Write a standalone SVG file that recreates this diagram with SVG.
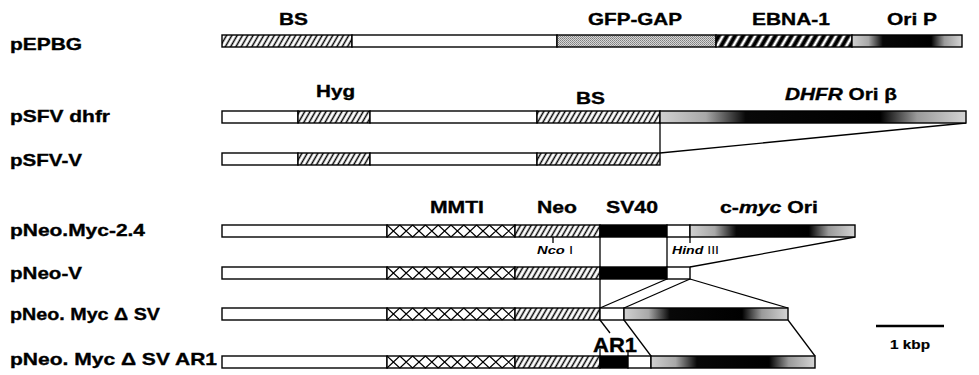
<svg xmlns="http://www.w3.org/2000/svg" xmlns:xlink="http://www.w3.org/1999/xlink" width="979" height="375" viewBox="0 0 979 375">
<style>
.t{font-family:"Liberation Sans",Arial,Helvetica,sans-serif;font-weight:bold;font-size:17px;fill:#000;stroke:#000;stroke-width:0.35}
.s{font-family:"Liberation Sans",Arial,Helvetica,sans-serif;font-weight:bold;font-size:11.5px;fill:#000}
.seg{stroke:#000;stroke-width:1.4}
.w{fill:#fff}
.h{fill:url(#hatch)}
.th{fill:url(#thick)}
.st{fill:url(#stip)}
.k{fill:#000}
.o{fill:url(#ori)}
.x{fill:#fff}
.ln{stroke:#000;stroke-width:1.3;fill:none}
</style>
<defs>
<pattern id="hatch" patternUnits="userSpaceOnUse" width="4.6" height="10" patternTransform="rotate(30)">
<rect width="4.6" height="10" fill="#fff"/>
<line x1="2.3" y1="0" x2="2.3" y2="10" stroke="#000" stroke-width="1.5"/>
</pattern>
<pattern id="thick" patternUnits="userSpaceOnUse" width="7" height="10" patternTransform="rotate(30)">
<rect width="7" height="10" fill="#fff"/>
<line x1="3.5" y1="0" x2="3.5" y2="10" stroke="#000" stroke-width="4.2"/>
</pattern>
<pattern id="stip" patternUnits="userSpaceOnUse" width="2" height="2">
<rect width="2" height="2" fill="#d6d6d6"/>
<rect width="1" height="1" fill="#808080"/>
<rect x="1" y="1" width="1" height="1" fill="#959595"/>
</pattern>
<linearGradient id="ori" x1="0" y1="0" x2="1" y2="0">
<stop offset="0" stop-color="#d0d0d0"/>
<stop offset="0.15" stop-color="#a8a8a8"/>
<stop offset="0.28" stop-color="#080808"/>
<stop offset="0.72" stop-color="#000"/>
<stop offset="0.84" stop-color="#9a9a9a"/>
<stop offset="1" stop-color="#d4d4d4"/>
</linearGradient>
<path id="xh" d="M0,0L12.8,12M0,12L12.8,0M12.8,0L25.6,12M12.8,12L25.6,0M25.6,0L38.4,12M25.6,12L38.4,0M38.4,0L51.2,12M38.4,12L51.2,0M51.2,0L64,12M51.2,12L64,0M64,0L76.8,12M64,12L76.8,0M76.8,0L89.6,12M76.8,12L89.6,0M89.6,0L102.4,12M89.6,12L102.4,0M102.4,0L115.2,12M102.4,12L115.2,0M115.2,0L128,12M115.2,12L128,0" stroke="#000" stroke-width="1.1" fill="none"/>
</defs>

<g id="connectors">
<line class="ln" x1="660" y1="123" x2="660" y2="153"/>
<line class="ln" x1="660" y1="153" x2="966" y2="123"/>
<line class="ln" x1="600" y1="237" x2="600" y2="267"/>
<line class="ln" x1="667" y1="237" x2="667" y2="267"/>
<line class="ln" x1="690" y1="267" x2="855" y2="237"/>
<line class="ln" x1="553" y1="237" x2="553" y2="243"/>
<line class="ln" x1="690" y1="237" x2="690" y2="243"/>
<line class="ln" x1="600" y1="279" x2="600" y2="308"/>
<line class="ln" x1="667" y1="279" x2="600" y2="308"/>
<line class="ln" x1="690" y1="279" x2="624" y2="308"/>
<line class="ln" x1="690" y1="279" x2="788" y2="308"/>
<line class="ln" x1="600" y1="320" x2="610" y2="333"/>
<line class="ln" x1="600" y1="349" x2="600" y2="356"/>
<line class="ln" x1="628" y1="350" x2="628" y2="356"/>
<line class="ln" x1="624" y1="320" x2="651" y2="356"/>
<line class="ln" x1="788" y1="320" x2="815" y2="356"/>
</g>

<g id="pEPBG">
<text class="t" x="10" y="50" textLength="72" lengthAdjust="spacingAndGlyphs">pEPBG</text>
<rect class="seg h" x="222" y="35" width="130" height="12"/>
<rect class="seg w" x="352" y="35" width="205" height="12"/>
<rect class="seg st" x="557" y="35" width="159" height="12"/>
<rect class="seg th" x="716" y="35" width="136" height="12"/>
<rect class="seg o" x="852" y="35" width="110" height="12"/>
<text class="t" x="279" y="25" textLength="29" lengthAdjust="spacingAndGlyphs">BS</text>
<text class="t" x="588" y="25" textLength="94" lengthAdjust="spacingAndGlyphs">GFP-GAP</text>
<text class="t" x="752" y="25" textLength="78" lengthAdjust="spacingAndGlyphs">EBNA-1</text>
<text class="t" x="887" y="25" textLength="50" lengthAdjust="spacingAndGlyphs">Ori P</text>
</g>

<g id="pSFV-dhfr">
<text class="t" x="10" y="122" textLength="100" lengthAdjust="spacingAndGlyphs">pSFV dhfr</text>
<rect class="seg w" x="222" y="111" width="76" height="12"/>
<rect class="seg h" x="298" y="111" width="72" height="12"/>
<rect class="seg w" x="370" y="111" width="167" height="12"/>
<rect class="seg h" x="537" y="111" width="123" height="12"/>
<rect class="seg o" x="660" y="111" width="306" height="12"/>
<text class="t" x="316" y="97" textLength="39" lengthAdjust="spacingAndGlyphs">Hyg</text>
<text class="t" x="576" y="104" textLength="29" lengthAdjust="spacingAndGlyphs">BS</text>
<text class="t" x="785" y="100" textLength="112" lengthAdjust="spacingAndGlyphs"><tspan font-style="italic">DHFR</tspan> Ori β</text>
</g>

<g id="pSFV-V">
<text class="t" x="10" y="166" textLength="72" lengthAdjust="spacingAndGlyphs">pSFV-V</text>
<rect class="seg w" x="222" y="153" width="76" height="12"/>
<rect class="seg h" x="298" y="153" width="72" height="12"/>
<rect class="seg w" x="370" y="153" width="167" height="12"/>
<rect class="seg h" x="537" y="153" width="123" height="12"/>
</g>

<g id="pNeo-Myc-2.4">
<text class="t" x="10" y="236" textLength="135" lengthAdjust="spacingAndGlyphs">pNeo.Myc-2.4</text>
<rect class="seg w" x="222" y="225" width="165" height="12"/>
<rect class="seg x" x="387" y="225" width="128" height="12"/>
<use xlink:href="#xh" x="387" y="225"/>
<rect class="seg h" x="515" y="225" width="85" height="12"/>
<rect class="seg k" x="600" y="225" width="67" height="12"/>
<rect class="seg w" x="667" y="225" width="23" height="12"/>
<rect class="seg o" x="690" y="225" width="165" height="12"/>
<text class="t" x="430" y="213" textLength="54" lengthAdjust="spacingAndGlyphs">MMTI</text>
<text class="t" x="537" y="213" textLength="40" lengthAdjust="spacingAndGlyphs">Neo</text>
<text class="t" x="606" y="213" textLength="52" lengthAdjust="spacingAndGlyphs">SV40</text>
<text class="t" x="720" y="213" textLength="98" lengthAdjust="spacingAndGlyphs">c-<tspan font-style="italic">myc</tspan> Ori</text>
<text class="s" x="537" y="254" textLength="36" lengthAdjust="spacingAndGlyphs"><tspan font-style="italic">Nco</tspan><tspan font-weight="normal"> I</tspan></text>
<text class="s" x="672" y="254" textLength="47" lengthAdjust="spacingAndGlyphs"><tspan font-style="italic">Hind</tspan><tspan font-weight="normal"> III</tspan></text>
</g>

<g id="pNeo-V">
<text class="t" x="10" y="279" textLength="72" lengthAdjust="spacingAndGlyphs">pNeo-V</text>
<rect class="seg w" x="222" y="267" width="165" height="12"/>
<rect class="seg x" x="387" y="267" width="128" height="12"/>
<use xlink:href="#xh" x="387" y="267"/>
<rect class="seg h" x="515" y="267" width="85" height="12"/>
<rect class="seg k" x="600" y="267" width="67" height="12"/>
<rect class="seg w" x="667" y="267" width="23" height="12"/>
</g>

<g id="pNeo-Myc-dSV">
<text class="t" x="10" y="320" textLength="150" lengthAdjust="spacingAndGlyphs">pNeo. Myc Δ SV</text>
<rect class="seg w" x="222" y="308" width="165" height="12"/>
<rect class="seg x" x="387" y="308" width="128" height="12"/>
<use xlink:href="#xh" x="387" y="308"/>
<rect class="seg h" x="515" y="308" width="85" height="12"/>
<rect class="seg w" x="600" y="308" width="24" height="12"/>
<rect class="seg o" x="624" y="308" width="164" height="12"/>
</g>

<g id="pNeo-Myc-dSV-AR1">
<text class="t" x="10" y="365" textLength="207" lengthAdjust="spacingAndGlyphs">pNeo. Myc Δ SV AR1</text>
<rect class="seg w" x="222" y="356" width="165" height="12"/>
<rect class="seg x" x="387" y="356" width="128" height="12"/>
<use xlink:href="#xh" x="387" y="356"/>
<rect class="seg h" x="515" y="356" width="85" height="12"/>
<rect class="seg k" x="600" y="356" width="28" height="12"/>
<rect class="seg w" x="628" y="356" width="23" height="12"/>
<rect class="seg o" x="651" y="356" width="164" height="12"/>
<text class="t" x="593" y="352" style="font-size:20px" textLength="44" lengthAdjust="spacingAndGlyphs">AR1</text>
</g>

<g id="scale-bar">
<line x1="876" y1="326" x2="944" y2="326" stroke="#000" stroke-width="2.5"/>
<text class="t" x="890" y="349" style="font-size:13px;stroke-width:0.2" textLength="40" lengthAdjust="spacingAndGlyphs">1 kbp</text>
</g>
</svg>
